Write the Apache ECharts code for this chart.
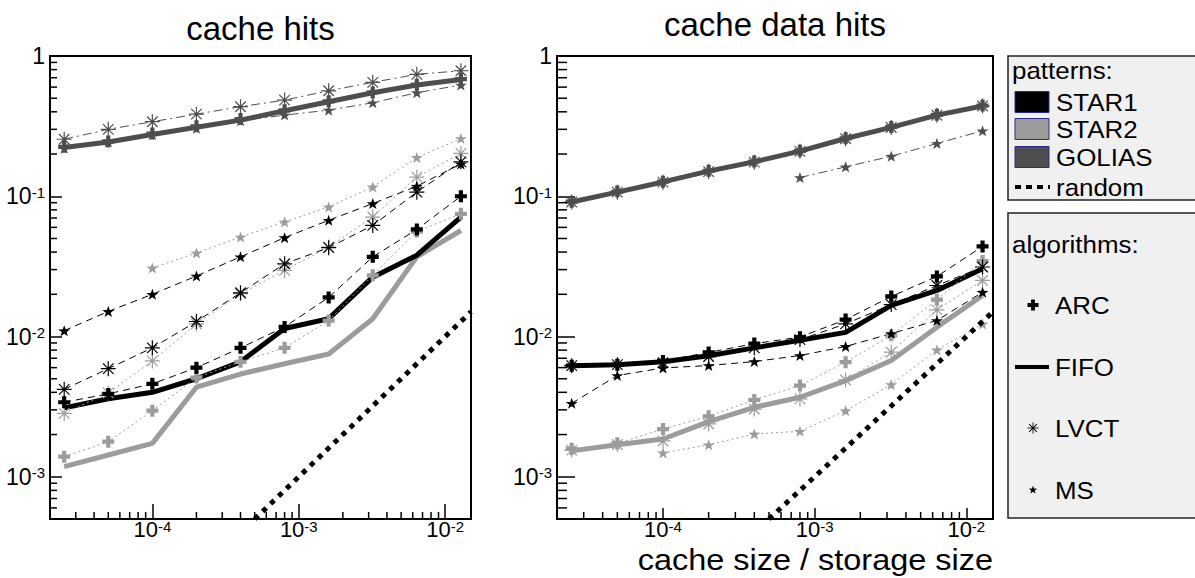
<!DOCTYPE html>
<html>
<head>
<meta charset="utf-8">
<script src="https://cdn.jsdelivr.net/npm/echarts@6/dist/echarts.min.js"></script>
<style>
  html, body { margin: 0; background: #fff; }
  #chart { width: 1195px; height: 578px; }
</style>
</head>
<body>
<div id="chart"></div>
<script>
// cache size / storage size (x values, both panels)
var cacheSize = [2.5e-5, 5e-5, 1e-4, 2e-4, 4e-4, 8e-4, 1.6e-3, 3.2e-3, 6.4e-3, 1.28e-2];

// left panel: cache hits
var hitsStar1Arc  = [3.4e-3, 3.9e-3, 4.6e-3, 6.0e-3, 8.3e-3, 0.0117, 0.019, 0.037, 0.058, 0.100];
var hitsStar1Fifo = [3.1e-3, 3.6e-3, 4.0e-3, 5.0e-3, 6.6e-3, 0.0114, 0.0134, 0.0265, 0.038, 0.071];
var hitsStar1Lvct = [4.2e-3, 5.9e-3, 8.3e-3, 0.0128, 0.0205, 0.033, 0.043, 0.062, 0.107, 0.176];
var hitsStar1Ms   = [0.0110, 0.0151, 0.020, 0.027, 0.037, 0.0507, 0.0674, 0.0887, 0.118, 0.170];
var hitsStar2Arc  = [1.39e-3, 1.78e-3, 2.96e-3, 5.1e-3, 6.6e-3, 8.3e-3, 0.013, 0.0273, 0.056, 0.075];
var hitsStar2Fifo = [1.18e-3, 1.43e-3, 1.73e-3, 4.35e-3, 5.4e-3, 6.4e-3, 7.5e-3, 0.0134, 0.037, 0.057];
var hitsStar2Lvct = [2.83e-3, 3.96e-3, 6.7e-3, 0.0123, 0.0202, 0.0296, 0.0434, 0.0711, 0.137, 0.202];
var hitsStar2Ms   = [null, null, 0.0308, 0.0394, 0.0512, 0.0656, 0.0839, 0.1166, 0.189, 0.258];
var hitsGoliasArc  = [0.225, 0.246, 0.280, 0.315, 0.355, 0.410, 0.475, 0.550, 0.625, 0.685];
var hitsGoliasFifo = [0.223, 0.244, 0.276, 0.310, 0.349, 0.407, 0.472, 0.547, 0.621, 0.680];
var hitsGoliasLvct = [0.255, 0.300, 0.340, 0.385, 0.435, 0.485, 0.565, 0.649, 0.740, 0.785];
var hitsGoliasMs   = [0.220, 0.245, 0.275, 0.305, 0.345, 0.379, 0.411, 0.464, 0.547, 0.621];

// right panel: cache data hits
var dataStar1Arc  = [6.2e-3, 6.3e-3, 6.7e-3, 7.7e-3, 8.9e-3, 9.9e-3, 0.0132, 0.0193, 0.0268, 0.0439];
var dataStar1Fifo = [6.2e-3, 6.3e-3, 6.6e-3, 7.3e-3, 8.3e-3, 9.4e-3, 0.0107, 0.0167, 0.0213, 0.0304];
var dataStar1Lvct = [6.2e-3, 6.3e-3, 6.5e-3, 7.2e-3, 8.3e-3, 9.5e-3, 0.0123, 0.0169, 0.0231, 0.0313];
var dataStar1Ms   = [3.34e-3, 5.27e-3, 5.97e-3, 6.21e-3, 6.63e-3, 7.32e-3, 8.49e-3, 0.0105, 0.013, 0.0207];
var dataStar2Arc  = [1.58e-3, 1.73e-3, 2.19e-3, 2.7e-3, 3.53e-3, 4.47e-3, 6.56e-3, 0.0102, 0.0183, 0.0345];
var dataStar2Fifo = [1.53e-3, 1.69e-3, 1.86e-3, 2.47e-3, 3.13e-3, 3.69e-3, 4.85e-3, 6.74e-3, 0.01166, 0.0196];
var dataStar2Lvct = [1.55e-3, 1.7e-3, 1.8e-3, 2.38e-3, 3.04e-3, 3.59e-3, 4.9e-3, 7.73e-3, 0.0155, 0.0251];
var dataStar2Ms   = [null, null, 1.48e-3, 1.69e-3, 2.02e-3, 2.11e-3, 2.96e-3, 4.54e-3, 8.03e-3, 0.0123];
var dataGoliasArc  = [0.0915, 0.108, 0.127, 0.152, 0.177, 0.211, 0.259, 0.312, 0.381, 0.443];
var dataGoliasFifo = [0.0911, 0.107, 0.1265, 0.151, 0.176, 0.210, 0.258, 0.310, 0.379, 0.440];
var dataGoliasLvct = [0.0910, 0.107, 0.126, 0.150, 0.175, 0.209, 0.257, 0.309, 0.378, 0.440];
var dataGoliasMs   = [null, null, null, null, null, 0.136, 0.162, 0.193, 0.238, 0.293];

// random replacement: hit ratio equals cache size / storage size
var randomSize = [5e-4, 1.5e-2];
var randomHits = [5e-4, 1.5e-2];

var panelTitles = ['cache hits', 'cache data hits'];
var xAxisTitle = 'cache size / storage size';
var patternNames = ['STAR1', 'STAR2', 'GOLIAS'];
var algorithmNames = ['ARC', 'FIFO', 'LVCT', 'MS'];

var FONT = '"Liberation Sans", Arial, Helvetica, sans-serif';
var X_MIN = 2e-5, X_MAX = 1.5e-2, Y_MIN = 5e-4, Y_MAX = 1;

var PLUS = 'path://M6.5,0L13.5,0L13.5,6.5L20,6.5L20,13.5L13.5,13.5L13.5,20L6.5,20L6.5,13.5L0,13.5L0,6.5L6.5,6.5Z';
var ASTER = 'path://M9.2,0L10.8,0L10.8,20L9.2,20Z M0,9.2L20,9.2L20,10.8L0,10.8Z ' +
  'M3.57,2.43L17.57,16.43L16.43,17.57L2.43,3.57Z M17.57,3.57L3.57,17.57L2.43,16.43L16.43,2.43Z';
var STAR = 'path://M10,0L12.35,6.76L19.51,6.91L13.8,11.24L15.88,18.09L10,14L4.12,18.09L6.2,11.24L0.49,6.91L7.65,6.76Z';

var patternStyle = {
  STAR1:  { color: '#000000', dash: [7, 5] },
  STAR2:  { color: '#9c9c9c', dash: [2, 3] },
  GOLIAS: { color: '#4e4e4e', dash: [9, 4, 2, 4] }
};
var algoStyle = {
  ARC:  { symbol: PLUS,  size: 12 },
  FIFO: { symbol: 'none', size: 0 },
  LVCT: { symbol: ASTER, size: 15 },
  MS:   { symbol: STAR,  size: [12, 11] }
};

var panels = [
  { left: 50, width: 421, xTick: [15, 7], yTick: [12, 7], title: panelTitles[0], titleY: 28,
    values: {
      STAR1: { ARC: hitsStar1Arc, FIFO: hitsStar1Fifo, LVCT: hitsStar1Lvct, MS: hitsStar1Ms },
      STAR2: { ARC: hitsStar2Arc, FIFO: hitsStar2Fifo, LVCT: hitsStar2Lvct, MS: hitsStar2Ms },
      GOLIAS: { ARC: hitsGoliasArc, FIFO: hitsGoliasFifo, LVCT: hitsGoliasLvct, MS: hitsGoliasMs }
    } },
  { left: 557, width: 436, xTick: [11, 7], yTick: [18, 10], title: panelTitles[1], titleY: 24,
    values: {
      STAR1: { ARC: dataStar1Arc, FIFO: dataStar1Fifo, LVCT: dataStar1Lvct, MS: dataStar1Ms },
      STAR2: { ARC: dataStar2Arc, FIFO: dataStar2Fifo, LVCT: dataStar2Lvct, MS: dataStar2Ms },
      GOLIAS: { ARC: dataGoliasArc, FIFO: dataGoliasFifo, LVCT: dataGoliasLvct, MS: dataGoliasMs }
    } }
];

function powLabel(v) {
  var l = Math.log10(v), e = Math.round(l);
  if (Math.abs(l - e) > 1e-6) return '';
  if (e === 0) return '{n|1}';
  return '{n|10}{s|' + e + '}';
}
var yLabelRich = {
  n: { fontSize: 23, fontFamily: FONT, color: '#000', lineHeight: 23, verticalAlign: 'bottom' },
  s: { fontSize: 15, fontFamily: FONT, color: '#000', lineHeight: 13, verticalAlign: 'top' }
};
var xLabelRich = {
  n: { fontSize: 22, fontFamily: FONT, color: '#000', lineHeight: 21, verticalAlign: 'bottom' },
  s: { fontSize: 15, fontFamily: FONT, color: '#000', lineHeight: 12, verticalAlign: 'top' }
};

function minorTicks() {
  var out = [];
  for (var e = -5; e <= 0; e++) {
    for (var k = 2; k <= 9; k++) {
      var v = k * Math.pow(10, e);
      if (v > X_MIN && v < X_MAX) out.push([v, Y_MIN, 0]);
      if (v > Y_MIN && v < Y_MAX) out.push([X_MIN, v, 1]);
    }
  }
  return out;
}

var grids = [], xAxes = [], yAxes = [], series = [], graphics = [];
var drawOrder = ['GOLIAS', 'STAR2', 'STAR1'];

panels.forEach(function (p, gi) {
  grids.push({ left: p.left, top: 56, width: p.width, height: 463, show: true,
    borderColor: '#000', borderWidth: 2, backgroundColor: 'transparent' });
  xAxes.push({ type: 'log', gridIndex: gi, min: X_MIN, max: X_MAX, logBase: 10,
    axisLine: { lineStyle: { color: '#000', width: 2 } },
    axisTick: { inside: true, length: p.xTick[0], lineStyle: { color: '#000', width: 1.5 } },
    axisLabel: { formatter: powLabel, rich: xLabelRich, margin: 0 },
    splitLine: { show: false } });
  yAxes.push({ type: 'log', gridIndex: gi, min: Y_MIN, max: Y_MAX, logBase: 10,
    axisLine: { lineStyle: { color: '#000', width: 2 } },
    axisTick: { inside: true, length: p.yTick[0], lineStyle: { color: '#000', width: 1.5 } },
    axisLabel: { formatter: powLabel, rich: yLabelRich, margin: 5 },
    splitLine: { show: false } });

  // minor log ticks drawn through the axes' own scale
  series.push({ type: 'custom', xAxisIndex: gi, yAxisIndex: gi, data: minorTicks(), z: 5, silent: true,
    renderItem: function (params, api) {
      var pt = api.coord([api.value(0), api.value(1)]);
      var horiz = api.value(2) === 1;
      var shape = horiz ? { x1: pt[0], y1: pt[1], x2: pt[0] + p.yTick[1], y2: pt[1] }
                        : { x1: pt[0], y1: pt[1], x2: pt[0], y2: pt[1] - p.xTick[1] };
      return { type: 'line', shape: shape, style: { stroke: '#000', lineWidth: 1.5 } };
    } });

  drawOrder.forEach(function (pat) {
    var ps = patternStyle[pat];
    algorithmNames.forEach(function (algo) {
      var as = algoStyle[algo];
      var ys = p.values[pat][algo];
      var pts = [];
      cacheSize.forEach(function (x, i) { if (ys[i] != null) pts.push([x, ys[i]]); });
      var fifo = algo === 'FIFO';
      series.push({ type: 'line', name: pat + ' ' + algo, xAxisIndex: gi, yAxisIndex: gi,
        data: pts, symbol: as.symbol, symbolSize: as.size, showSymbol: !fifo,
        z: fifo ? 2 : 3,
        itemStyle: { color: ps.color, borderWidth: 0 },
        lineStyle: { color: ps.color, width: fifo ? 5 : 1, type: fifo ? 'solid' : ps.dash },
        emphasis: { disabled: true }, silent: true });
    });
  });

  series.push({ type: 'line', name: 'random', xAxisIndex: gi, yAxisIndex: gi,
    data: randomSize.map(function (x, i) { return [x, randomHits[i]]; }),
    symbol: 'none', z: 4, lineStyle: { color: '#000', width: 5, type: [5, 6] }, silent: true });

  graphics.push({ type: 'text', x: p.left + p.width / 2, y: p.titleY,
    style: { text: p.title, font: '33px ' + FONT, fill: '#000',
      align: 'center', verticalAlign: 'middle', textAlign: 'center', textVerticalAlign: 'middle' } });
});

graphics.push({ type: 'text', x: 993, y: 560, scaleX: 1.1,
  style: { text: xAxisTitle, font: '29.5px ' + FONT, fill: '#000', lineHeight: 26,
    align: 'right', verticalAlign: 'middle', textAlign: 'right', textVerticalAlign: 'middle' } });

// legend boxes
var LFONT = '24px ' + FONT;
function legendText(str, x, y) {
  return { type: 'text', x: x, y: y, z: 20, scaleX: 1.08,
    style: { text: str, font: LFONT, fill: '#000', lineHeight: 24, align: 'left', verticalAlign: 'middle',
      textAlign: 'left', textVerticalAlign: 'middle' } };
}
// polygon points of a 20x20 marker path, scaled into a box centred on (cx, cy)
function markerPolys(path, cx, cy, w, h) {
  return path.replace('path://', '').split('M').filter(function (s) { return s.trim(); }).map(function (sub) {
    var nums = sub.replace(/[LZ]/g, ' ').trim().split(/[\s,]+/).map(Number);
    var pts = [];
    for (var i = 0; i + 1 < nums.length; i += 2) {
      pts.push([cx + (nums[i] - 10) * w / 20, cy + (nums[i + 1] - 10) * h / 20]);
    }
    return { type: 'polygon', z: 20, shape: { points: pts }, style: { fill: '#000' } };
  });
}
graphics.push({ type: 'rect', z: 10, shape: { x: 1008, y: 56, width: 200, height: 144 },
  style: { fill: '#f0f0f0', stroke: '#222', lineWidth: 1.5 } });
graphics.push(legendText('patterns:', 1012, 70));
var patRowY = [102, 129, 157];
patternNames.forEach(function (pat, i) {
  graphics.push({ type: 'rect', z: 20, shape: { x: 1015, y: patRowY[i] - 10.5, width: 34, height: 21 },
    style: { fill: patternStyle[pat].color, stroke: '#2b2b8f', lineWidth: 1 } });
  graphics.push(legendText(pat, 1056, patRowY[i]));
});
graphics.push({ type: 'line', z: 20, shape: { x1: 1015, y1: 187, x2: 1050, y2: 187 },
  style: { stroke: '#000', lineWidth: 4, lineDash: [6, 5] } });
graphics.push(legendText('random', 1056, 187));

graphics.push({ type: 'rect', z: 10, shape: { x: 1008, y: 213, width: 200, height: 305 },
  style: { fill: '#f0f0f0', stroke: '#222', lineWidth: 1.5 } });
graphics.push(legendText('algorithms:', 1012, 244));
var algoRowY = [305, 367, 428, 490];
algorithmNames.forEach(function (algo, i) {
  var y = algoRowY[i];
  if (algo === 'FIFO') {
    graphics.push({ type: 'line', z: 20, shape: { x1: 1015, y1: y, x2: 1049, y2: y },
      style: { stroke: '#000', lineWidth: 4 } });
  } else {
    var sz = algo === 'MS' ? [9, 8.5] : [11, 11];
    markerPolys(algoStyle[algo].symbol, 1033, y, sz[0], sz[1]).forEach(function (g) { graphics.push(g); });
  }
  graphics.push(legendText(algo, 1055, y));
});

var chart = echarts.init(document.getElementById('chart'), null, { renderer: 'svg' });
chart.setOption({
  animation: false,
  backgroundColor: '#fff',
  textStyle: { fontFamily: FONT },
  grid: grids,
  xAxis: xAxes,
  yAxis: yAxes,
  series: series,
  graphic: graphics
});
</script>
</body>
</html>
